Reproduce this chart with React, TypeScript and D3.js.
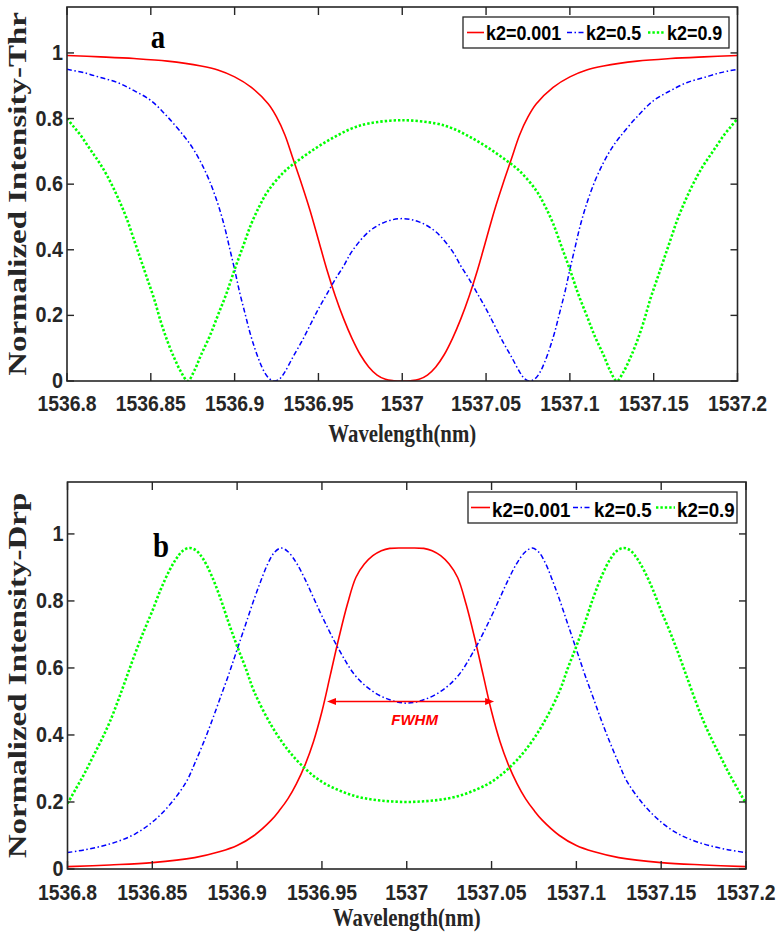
import React from 'react';
import * as d3 from 'd3';

type P = [number, number];

const xTicks = [1536.8, 1536.85, 1536.9, 1536.95, 1537, 1537.05, 1537.1, 1537.15, 1537.2];
const xTickLabels = ['1536.8', '1536.85', '1536.9', '1536.95', '1537', '1537.05', '1537.1', '1537.15', '1537.2'];
const yTicks = [0, 0.2, 0.4, 0.6, 0.8, 1];
const yTickLabels = ['0', '0.2', '0.4', '0.6', '0.8', '1'];
const legendLabels = ['k2=0.001', 'k2=0.5', 'k2=0.9'];

// Panel (a): through port
const thrRed: P[] = [
  [1536.80, .992], [1536.82, .988], [1536.84, .983], [1536.86, .975], [1536.88, .96], [1536.89, .948],
  [1536.90, .927], [1536.91, .895], [1536.92, .845], [1536.925, .805], [1536.93, .75], [1536.935, .675],
  [1536.94, .60], [1536.945, .52], [1536.95, .43], [1536.955, .34], [1536.96, .26], [1536.965, .19],
  [1536.97, .13], [1536.975, .08], [1536.98, .043], [1536.985, .018], [1536.99, .005], [1536.995, .001],
  [1537.00, 0], [1537.005, .001], [1537.01, .005], [1537.015, .018], [1537.02, .043], [1537.025, .08],
  [1537.03, .13], [1537.035, .19], [1537.04, .26], [1537.045, .34], [1537.05, .43], [1537.055, .52],
  [1537.06, .60], [1537.065, .675], [1537.07, .75], [1537.075, .805], [1537.08, .845], [1537.09, .895],
  [1537.10, .927], [1537.11, .948], [1537.12, .96], [1537.14, .975], [1537.16, .983], [1537.18, .988],
  [1537.20, .992],
];
const thrBlue: P[] = [
  [1536.80, .95], [1536.81, .94], [1536.82, .925], [1536.83, .91], [1536.84, .885], [1536.85, .855],
  [1536.86, .805], [1536.87, .745], [1536.875, .71], [1536.88, .665], [1536.885, .61], [1536.89, .54],
  [1536.894, .47], [1536.897, .405], [1536.90, .34], [1536.903, .27], [1536.906, .21], [1536.909, .15],
  [1536.912, .10], [1536.915, .058], [1536.918, .025], [1536.921, .006], [1536.924, 0], [1536.927, .007],
  [1536.93, .028], [1536.935, .075], [1536.94, .12], [1536.945, .17], [1536.95, .22], [1536.955, .265],
  [1536.96, .31], [1536.965, .35], [1536.97, .395], [1536.98, .455], [1536.99, .485], [1537.00, .495],
  [1537.01, .485], [1537.02, .455], [1537.03, .395], [1537.035, .35], [1537.04, .31], [1537.045, .265],
  [1537.05, .22], [1537.055, .17], [1537.06, .12], [1537.065, .075], [1537.07, .028], [1537.073, .007],
  [1537.076, 0], [1537.079, .006], [1537.082, .025], [1537.085, .058], [1537.088, .10], [1537.091, .15],
  [1537.094, .21], [1537.097, .27], [1537.10, .34], [1537.103, .405], [1537.106, .47], [1537.11, .54],
  [1537.115, .61], [1537.12, .665], [1537.125, .71], [1537.13, .745], [1537.14, .805], [1537.15, .855],
  [1537.16, .885], [1537.17, .91], [1537.18, .925], [1537.19, .94], [1537.20, .95],
];
const thrGreen: P[] = [
  [1536.80, .80], [1536.804, .775], [1536.808, .75], [1536.812, .72], [1536.816, .69], [1536.82, .66],
  [1536.824, .625], [1536.828, .585], [1536.832, .54], [1536.836, .49], [1536.84, .43], [1536.844, .37],
  [1536.848, .31], [1536.852, .25], [1536.856, .18], [1536.86, .12], [1536.864, .07], [1536.868, .028],
  [1536.872, 0], [1536.876, .032], [1536.88, .08], [1536.885, .135], [1536.89, .20], [1536.895, .265],
  [1536.90, .34], [1536.905, .41], [1536.91, .48], [1536.915, .535], [1536.92, .58], [1536.93, .64],
  [1536.94, .68], [1536.95, .715], [1536.96, .745], [1536.97, .77], [1536.98, .785], [1537.00, .795],
  [1537.02, .785], [1537.03, .77], [1537.04, .745], [1537.05, .715], [1537.06, .68], [1537.07, .64],
  [1537.08, .58], [1537.085, .535], [1537.09, .48], [1537.095, .41], [1537.10, .34], [1537.105, .265],
  [1537.11, .20], [1537.115, .135], [1537.12, .08], [1537.124, .032], [1537.128, 0], [1537.132, .028],
  [1537.136, .07], [1537.14, .12], [1537.144, .18], [1537.148, .25], [1537.152, .31], [1537.156, .37],
  [1537.16, .43], [1537.164, .49], [1537.168, .54], [1537.172, .585], [1537.176, .625], [1537.18, .66],
  [1537.184, .69], [1537.188, .72], [1537.192, .75], [1537.196, .775], [1537.20, .80],
];

// Panel (b): drop port
const drpRed: P[] = [
  [1536.80, .007], [1536.825, .012], [1536.85, .019], [1536.875, .034], [1536.89, .052], [1536.90, .07],
  [1536.91, .10], [1536.92, .145], [1536.925, .175], [1536.93, .21], [1536.935, .255], [1536.94, .31],
  [1536.945, .38], [1536.95, .47], [1536.955, .58], [1536.96, .69], [1536.965, .79], [1536.97, .87],
  [1536.975, .91], [1536.98, .935], [1536.985, .95], [1536.99, .957], [1537.00, .958], [1537.01, .957],
  [1537.015, .95], [1537.02, .935], [1537.025, .91], [1537.03, .87], [1537.035, .79], [1537.04, .69],
  [1537.045, .58], [1537.05, .47], [1537.055, .38], [1537.06, .31], [1537.065, .255], [1537.07, .21],
  [1537.075, .175], [1537.08, .145], [1537.09, .10], [1537.10, .07], [1537.11, .052], [1537.125, .034],
  [1537.15, .019], [1537.175, .012], [1537.20, .007],
];
const drpBlue: P[] = [
  [1536.80, .049], [1536.81, .057], [1536.82, .068], [1536.83, .083], [1536.84, .105], [1536.85, .14],
  [1536.86, .19], [1536.87, .26], [1536.875, .315], [1536.88, .375], [1536.885, .44], [1536.89, .51],
  [1536.895, .58], [1536.90, .655], [1536.905, .73], [1536.91, .805], [1536.914, .86], [1536.918, .91],
  [1536.922, .945], [1536.926, .958], [1536.93, .947], [1536.935, .913], [1536.94, .865], [1536.945, .81],
  [1536.95, .755], [1536.96, .655], [1536.97, .575], [1536.98, .53], [1536.99, .505], [1537.00, .495],
  [1537.01, .505], [1537.02, .53], [1537.03, .575], [1537.04, .655], [1537.05, .755], [1537.055, .81],
  [1537.06, .865], [1537.065, .913], [1537.07, .947], [1537.074, .958], [1537.078, .945], [1537.082, .91],
  [1537.086, .86], [1537.09, .805], [1537.095, .73], [1537.10, .655], [1537.105, .58], [1537.11, .51],
  [1537.115, .44], [1537.12, .375], [1537.125, .315], [1537.13, .26], [1537.14, .19], [1537.15, .14],
  [1537.16, .105], [1537.17, .083], [1537.18, .068], [1537.19, .057], [1537.20, .049],
];
const drpGreen: P[] = [
  [1536.80, .195], [1536.805, .24], [1536.81, .285], [1536.815, .335], [1536.82, .385], [1536.825, .44],
  [1536.83, .505], [1536.835, .575], [1536.84, .645], [1536.845, .71], [1536.85, .77], [1536.855, .835],
  [1536.86, .89], [1536.864, .925], [1536.868, .95], [1536.872, .958], [1536.876, .95], [1536.88, .925],
  [1536.885, .875], [1536.89, .81], [1536.895, .735], [1536.90, .665], [1536.905, .60], [1536.91, .53],
  [1536.92, .43], [1536.93, .355], [1536.94, .30], [1536.95, .26], [1536.96, .235], [1536.97, .217],
  [1536.98, .207], [1536.99, .202], [1537.00, .20], [1537.01, .202], [1537.02, .207], [1537.03, .217],
  [1537.04, .235], [1537.05, .26], [1537.06, .30], [1537.07, .355], [1537.08, .43], [1537.09, .53],
  [1537.095, .60], [1537.10, .665], [1537.105, .735], [1537.11, .81], [1537.115, .875], [1537.12, .925],
  [1537.124, .95], [1537.128, .958], [1537.132, .95], [1537.136, .925], [1537.14, .89], [1537.145, .835],
  [1537.15, .77], [1537.155, .71], [1537.16, .645], [1537.165, .575], [1537.17, .505], [1537.175, .44],
  [1537.18, .385], [1537.185, .335], [1537.19, .285], [1537.195, .24], [1537.20, .195],
];

const fwhmRange = [1536.953, 1537.0515];
const fwhmLevel = 0.5;

const AXIS = '#262626';
const styles = [
  { color: '#ff0000', width: 1.6, dash: undefined as string | undefined },
  { color: '#0000ff', width: 1.5, dash: '5,2.5,1.5,2.5' },
  { color: '#00ff00', width: 2.6, dash: '2.4,2' },
];
const TICK_FONT = 'Arial, "Liberation Sans", sans-serif';
const SERIF = '"Times New Roman", "Liberation Serif", serif';

interface Cfg {
  id: string;
  left: number; right: number; top: number; bottom: number; yMax: number;
  series: P[][];
  yLabel: string; letter: string; letterX: number; letterY: number;
  xLabelY: number; xTickY: number;
  leg: { x: number; y: number; w: number; h: number; items: number[]; len: number; fs: number; sx: number; base: number };
  fwhm?: boolean;
}

function Panel({ c }: { c: Cfg }) {
  const x = d3.scaleLinear().domain([1536.8, 1537.2]).range([c.left, c.right]);
  const y = d3.scaleLinear().domain([0, c.yMax]).range([c.bottom, c.top]);
  const line = d3.line<P>().x(d => x(d[0])).y(d => y(d[1])).curve(d3.curveCatmullRom.alpha(0.5));
  const tx = 8, ty = 7;
  const midY = (c.top + c.bottom) / 2;
  const midX = (c.left + c.right) / 2;
  const fy = y(fwhmLevel);
  const fx0 = x(fwhmRange[0]);
  const fx1 = x(fwhmRange[1]);
  return (
    <g>
      <defs>
        <clipPath id={`clip-${c.id}`}>
          <rect x={c.left} y={c.top} width={c.right - c.left} height={c.bottom - c.top} />
        </clipPath>
      </defs>
      <g clipPath={`url(#clip-${c.id})`}>
        {c.series.map((s, i) => (
          <path key={i} d={line(s) || ''} fill="none" stroke={styles[i].color} strokeWidth={styles[i].width}
            strokeDasharray={styles[i].dash} />
        ))}
      </g>
      <rect x={c.left} y={c.top} width={c.right - c.left} height={c.bottom - c.top} fill="none" stroke={AXIS} strokeWidth={1.6} />
      {xTicks.map((t, i) => (
        <g key={'xt' + i}>
          <line x1={x(t)} x2={x(t)} y1={c.bottom} y2={c.bottom - tx} stroke={AXIS} strokeWidth={1.4} />
          <line x1={x(t)} x2={x(t)} y1={c.top} y2={c.top + tx} stroke={AXIS} strokeWidth={1.4} />
          <text transform={`translate(${x(t)},${c.xTickY}) scale(0.88,1)`} textAnchor="middle"
            fontFamily={TICK_FONT} fontWeight="bold" fontSize={22} fill={AXIS}>{xTickLabels[i]}</text>
        </g>
      ))}
      {yTicks.map((t, i) => (
        <g key={'yt' + i}>
          <line x1={c.left} x2={c.left + ty} y1={y(t)} y2={y(t)} stroke={AXIS} strokeWidth={1.4} />
          <line x1={c.right} x2={c.right - ty} y1={y(t)} y2={y(t)} stroke={AXIS} strokeWidth={1.4} />
          <text transform={`translate(${c.left - 4},${y(t) + 7}) scale(0.9,1)`} textAnchor="end"
            fontFamily={TICK_FONT} fontWeight="bold" fontSize={22} fill={AXIS}>{yTickLabels[i]}</text>
        </g>
      ))}
      <text transform={`translate(${midX},${c.xLabelY}) scale(0.8,1)`} textAnchor="middle"
        fontFamily={SERIF} fontWeight="bold" fontSize={26} fill={AXIS}>Wavelength(nm)</text>
      <text transform={`translate(26,${midY}) scale(0.74,1) rotate(-90)`} textAnchor="middle"
        fontFamily={SERIF} fontWeight="bold" fontSize={33} fill={AXIS}>{c.yLabel}</text>
      <text transform={`translate(${c.letterX},${c.letterY}) scale(0.85,1)`} textAnchor="middle"
        fontFamily={SERIF} fontWeight="bold" fontSize={34} fill="#000">{c.letter}</text>
      <rect x={c.leg.x} y={c.leg.y} width={c.leg.w} height={c.leg.h} fill="#fff" stroke={AXIS} strokeWidth={1.3} />
      {legendLabels.map((l, i) => (
        <g key={'lg' + i}>
          <line x1={c.leg.items[i]} x2={c.leg.items[i] + c.leg.len} y1={c.leg.y + c.leg.h / 2} y2={c.leg.y + c.leg.h / 2}
            stroke={styles[i].color} strokeWidth={styles[i].width} strokeDasharray={styles[i].dash} />
          <text transform={`translate(${c.leg.items[i] + c.leg.len + 2},${c.leg.base}) scale(${c.leg.sx},1)`}
            fontFamily={TICK_FONT} fontWeight="bold" fontSize={c.leg.fs} fill="#000">{l}</text>
        </g>
      ))}
      {c.fwhm && (
        <g>
          <line x1={fx0 + 7} x2={fx1 - 7} y1={fy} y2={fy} stroke="#ff0000" strokeWidth={1.6} />
          <path d={`M${fx0},${fy} L${fx0 + 9},${fy - 3.5} L${fx0 + 9},${fy + 3.5} Z`} fill="#ff0000" />
          <path d={`M${fx1},${fy} L${fx1 - 9},${fy - 3.5} L${fx1 - 9},${fy + 3.5} Z`} fill="#ff0000" />
          <text x={(fx0 + fx1) / 2 + 4} y={fy + 24} textAnchor="middle" fontFamily={TICK_FONT} fontStyle="italic"
            fontWeight="bold" fontSize={15} fill="#ff0000">FWHM</text>
        </g>
      )}
    </g>
  );
}

const top: Cfg = {
  id: 'a', left: 67, right: 737.5, top: 7, bottom: 381, yMax: 1.14,
  series: [thrRed, thrBlue, thrGreen],
  yLabel: 'Normalized Intensity-Thr', letter: 'a', letterX: 158, letterY: 48,
  xLabelY: 442, xTickY: 411,
  leg: { x: 463, y: 17, w: 266, h: 31, items: [467, 567, 648], len: 17, fs: 19.5, sx: 0.92, base: 40 },
};
const bottom: Cfg = {
  id: 'b', left: 67.5, right: 746, top: 482, bottom: 869, yMax: 1.155,
  series: [drpRed, drpBlue, drpGreen],
  yLabel: 'Normalized Intensity-Drp', letter: 'b', letterX: 161, letterY: 557,
  xLabelY: 926, xTickY: 900,
  leg: { x: 468, y: 492, w: 269, h: 31, items: [471, 573, 656], len: 19, fs: 21, sx: 0.89, base: 516.5 },
  fwhm: true,
};

export default function App() {
  return (
    <svg width={777} height={935} style={{ position: 'absolute', left: 0, top: 0, background: '#fff' }}>
      <rect x={0} y={0} width={777} height={935} fill="#fff" />
      <Panel c={top} />
      <Panel c={bottom} />
    </svg>
  );
}
